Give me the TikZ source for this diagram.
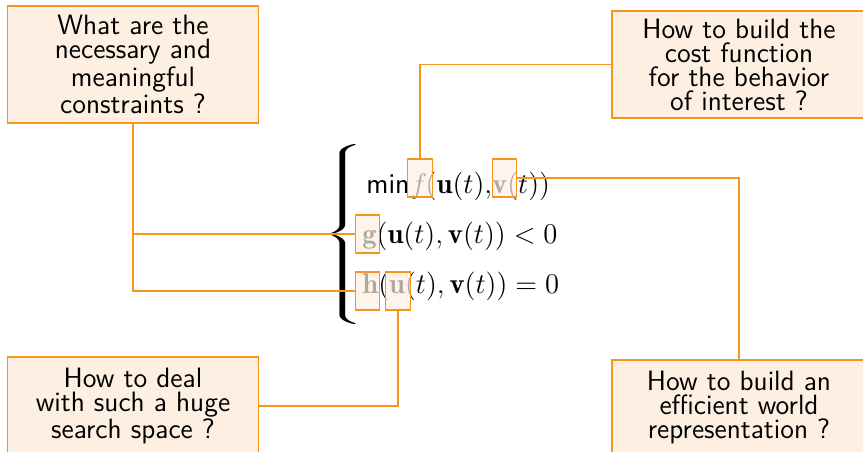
\RequirePackage{fix-cm}
\documentclass[tikz,border=0pt]{standalone}
\usepackage{fontspec}
\definecolor{qOrange}{RGB}{247,148,30}
\definecolor{qCream}{RGB}{253,240,227}

\begin{document}
\begin{tikzpicture}[
  x=0.5pt, y=-0.5pt,
  question/.style={draw=qOrange, fill=qCream, line width=0.7pt, align=center,
                   font=\sffamily\fontsize{14}{12}\selectfont, inner sep=0pt},
  term/.style={inner sep=0pt, anchor=base west, font=\fontsize{14.3}{16}\selectfont},
  hlbox/.style={draw=qOrange, fill=qCream, fill opacity=0.7, line width=0.7pt,
                minimum width=12.25pt, minimum height=19pt, inner sep=0pt},
  link/.style={draw=qOrange, line width=0.9pt}
]
\clip (0,0) rectangle (863,451);

% the optimisation problem
\node[inner sep=0pt, anchor=west, font=\fontsize{14.3}{16}\selectfont] (brace) at (321,234)
  {\scalebox{2.4}[1]{$\left\{\vcenter{\hbox{\rule{0pt}{92pt}}}\right.$}};
\node[term] (rowmin) at (366,193) {\sffamily min\hspace{0.5pt}$f\mkern-1mu(\mathbf{u}(t){,}\mathbf{v}(t))$};
\node[term] (rowg) at (362,243) {$\mathbf{g}(\mathbf{u}(t),\mathbf{v}(t)) < 0$};
\node[term] (rowh) at (362,293) {$\mathbf{h}(\mathbf{u}(t),\mathbf{v}(t)) = 0$};

% highlighted symbols
\node[hlbox] (fbox) at (420,178) {};
\node[hlbox] (vbox) at (504.5,178) {};
\node[hlbox] (gbox) at (367.5,234) {};
\node[hlbox] (hbox) at (367.5,291) {};
\node[hlbox] (ubox) at (398,291) {};

% questions around the problem
\node[question, minimum width=125.5pt, minimum height=58.5pt] (qcons) at (133,64.5)
  {What are the\\necessary and\\meaningful\\constraints ?};
\node[question, minimum width=127pt, minimum height=53.5pt] (qcost) at (739,64.5)
  {How to build the\\cost function\\for the behavior\\of interest ?};
\node[question, minimum width=125.5pt, minimum height=49pt] (qsearch) at (133,406)
  {How to deal\\with such a huge\\search space ?};
\node[question, minimum width=127pt, minimum height=47.5pt] (qworld) at (739,407.5)
  {How to build an\\efficient world\\representation ?};

% links
\draw[link] (qcons.south) |- (hbox.west);
\draw[link] (qcons.south |- gbox.west) -- (gbox.west);
\draw[link] (fbox.north) |- (qcost.west);
\draw[link] (vbox.east) -| (qworld.north);
\draw[link] (ubox.south) |- (qsearch.east);
\end{tikzpicture}
\end{document}
